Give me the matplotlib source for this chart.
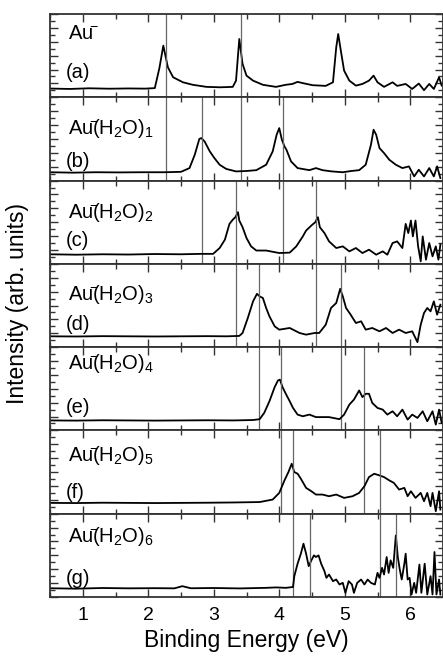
import matplotlib
matplotlib.use("Agg")
import matplotlib.pyplot as plt
from matplotlib.ticker import MultipleLocator

plt.rcParams['font.family'] = ['Liberation Sans', 'DejaVu Sans']
plt.rcParams['mathtext.fontset'] = 'custom'
plt.rcParams['mathtext.rm'] = 'Liberation Sans'
plt.rcParams['mathtext.it'] = 'Liberation Sans:italic'
plt.rcParams['mathtext.default'] = 'regular'

# spectra (binding energy in eV, intensity as fraction of panel height)
a_x = [0.50, 0.80, 1.10, 1.40, 1.70, 1.95, 2.10, 2.17, 2.23, 2.30, 2.38, 2.53, 2.68, 2.89, 3.10, 3.29,
       3.34, 3.39, 3.44, 3.50, 3.60, 3.75, 3.95, 4.10, 4.20, 4.28, 4.36, 4.51, 4.71, 4.82,
       4.87, 4.90, 4.94, 4.99, 5.07, 5.17, 5.27, 5.37, 5.44, 5.50, 5.60, 5.73, 5.80,
       5.93, 6.03, 6.13, 6.21, 6.29, 6.36, 6.44, 6.48]
a_y = [0.105, 0.10, 0.108, 0.103, 0.106, 0.104, 0.11, 0.35, 0.62, 0.36, 0.24, 0.18, 0.15, 0.125, 0.12, 0.125,
       0.20, 0.70, 0.40, 0.26, 0.20, 0.15, 0.125, 0.15, 0.16, 0.185, 0.17, 0.145, 0.137, 0.18,
       0.60, 0.76, 0.56, 0.32, 0.20, 0.14, 0.16, 0.20, 0.26, 0.18, 0.125, 0.18, 0.137,
       0.16, 0.10, 0.165, 0.085, 0.16, 0.10, 0.24, 0.14]

b_x = [0.50, 0.85, 1.20, 1.55, 1.90, 2.25, 2.50, 2.63, 2.71, 2.78, 2.81, 2.86, 2.94, 3.01, 3.09, 3.19, 3.34,
       3.50, 3.65, 3.80, 3.90, 3.96, 4.00, 4.04, 4.08, 4.11, 4.18, 4.28,
       4.46, 4.56, 4.66, 4.80, 4.97, 5.10, 5.22, 5.32,
       5.40, 5.44, 5.48, 5.53, 5.60, 5.68, 5.78, 5.88, 5.98,
       6.06, 6.13, 6.21, 6.29, 6.36, 6.41, 6.46]
b_y = [0.10, 0.095, 0.10, 0.098, 0.10, 0.10, 0.105, 0.15, 0.31, 0.50, 0.51, 0.47, 0.35, 0.27, 0.19, 0.14, 0.11,
       0.115, 0.125, 0.19, 0.35, 0.55, 0.63, 0.49, 0.41, 0.37, 0.23, 0.15,
       0.125, 0.15, 0.125, 0.11, 0.10, 0.115, 0.125, 0.19,
       0.43, 0.61, 0.55, 0.39, 0.33, 0.25, 0.19, 0.15, 0.17,
       0.05, 0.13, 0.05, 0.15, 0.05, 0.17, 0.03]

c_x = [0.50, 0.90, 1.30, 1.70, 2.10, 2.50, 2.80,
       2.99, 3.09, 3.17, 3.24, 3.29, 3.33, 3.37, 3.39, 3.44, 3.50, 3.57, 3.65, 3.80,
       4.00, 4.16, 4.26, 4.36, 4.41, 4.49, 4.55, 4.59, 4.62, 4.69, 4.76, 4.87,
       4.97, 5.07, 5.17, 5.27, 5.37, 5.48, 5.58, 5.65, 5.73, 5.80, 5.88,
       5.93, 5.97, 6.01, 6.04, 6.08, 6.12, 6.16, 6.19, 6.24, 6.29, 6.34, 6.39, 6.43, 6.46]
c_y = [0.115, 0.11, 0.115, 0.112, 0.118, 0.115, 0.12,
       0.12, 0.19, 0.29, 0.48, 0.53, 0.56, 0.62, 0.52, 0.44, 0.31, 0.21, 0.16, 0.16,
       0.13, 0.135, 0.21, 0.33, 0.40, 0.46, 0.50, 0.56, 0.44, 0.37, 0.27, 0.19,
       0.21, 0.15, 0.19, 0.13, 0.17, 0.11, 0.15, 0.11, 0.25, 0.27, 0.19,
       0.48, 0.37, 0.52, 0.33, 0.52, 0.21, 0.03, 0.33, 0.05, 0.25, 0.09, 0.21, 0.05, 0.23]

d_x = [0.50, 0.90, 1.30, 1.70, 2.10, 2.50, 2.90, 3.20,
       3.39, 3.44, 3.52, 3.60, 3.66, 3.70, 3.75, 3.80, 3.85, 3.93, 4.00,
       4.16, 4.31, 4.41, 4.54, 4.61, 4.71, 4.79, 4.87, 4.93, 4.97, 5.02, 5.09, 5.17, 5.25, 5.32, 5.42,
       5.53, 5.63, 5.73, 5.83, 5.93, 6.03, 6.11, 6.16, 6.21, 6.26, 6.31, 6.36, 6.41, 6.46]
d_y = [0.13, 0.128, 0.132, 0.13, 0.128, 0.13, 0.132, 0.13,
       0.135, 0.17, 0.35, 0.55, 0.64, 0.61, 0.59, 0.47, 0.37, 0.25, 0.21,
       0.23, 0.17, 0.15, 0.17, 0.17, 0.27, 0.47, 0.53, 0.70, 0.61, 0.47, 0.39, 0.29, 0.31, 0.21, 0.23,
       0.19, 0.23, 0.17, 0.21, 0.17, 0.19, 0.06, 0.27, 0.41, 0.47, 0.43, 0.55, 0.39, 0.51]

e_x = [0.50, 0.90, 1.30, 1.70, 2.10, 2.50, 2.90, 3.30, 3.60,
       3.70, 3.77, 3.85, 3.93, 3.98, 4.01, 4.05, 4.10, 4.16, 4.21, 4.28, 4.36, 4.46, 4.56, 4.76, 4.92,
       4.99, 5.07, 5.14, 5.22, 5.27, 5.32, 5.37, 5.42, 5.50, 5.58, 5.65, 5.73, 5.80, 5.88, 5.96,
       6.03, 6.11, 6.19, 6.26, 6.34, 6.39, 6.44, 6.48]
e_y = [0.12, 0.118, 0.122, 0.12, 0.118, 0.12, 0.122, 0.12, 0.125,
       0.135, 0.21, 0.35, 0.52, 0.60, 0.61, 0.52, 0.44, 0.35, 0.27, 0.19, 0.17, 0.19, 0.16, 0.16, 0.135,
       0.19, 0.31, 0.37, 0.48, 0.40, 0.44, 0.44, 0.33, 0.27, 0.25, 0.19, 0.23, 0.17, 0.25, 0.13,
       0.19, 0.15, 0.23, 0.11, 0.23, 0.07, 0.25, 0.09]

f_x = [0.50, 0.90, 1.30, 1.70, 2.10, 2.50, 2.90, 3.30, 3.70,
       3.90, 4.00, 4.08, 4.14, 4.19, 4.23, 4.28, 4.33, 4.41, 4.49, 4.56, 4.66, 4.76, 4.87, 4.99,
       5.12, 5.22, 5.30, 5.37, 5.45, 5.53, 5.60, 5.68, 5.75, 5.83, 5.91, 5.96, 6.01, 6.08, 6.16,
       6.21, 6.26, 6.31, 6.34, 6.39, 6.44, 6.46]
f_y = [0.13, 0.128, 0.132, 0.13, 0.128, 0.13, 0.132, 0.135, 0.14,
       0.17, 0.25, 0.40, 0.50, 0.60, 0.50, 0.48, 0.42, 0.31, 0.27, 0.23, 0.23, 0.21, 0.23, 0.19,
       0.21, 0.25, 0.33, 0.44, 0.48, 0.46, 0.44, 0.40, 0.37, 0.29, 0.31, 0.21, 0.27, 0.19, 0.25,
       0.15, 0.25, 0.09, 0.25, 0.03, 0.27, 0.05]

g_x = [0.50, 0.90, 1.30, 1.70, 2.10, 2.40, 2.52, 2.65, 3.00, 3.40, 3.80, 3.95, 4.10,
       4.21, 4.23, 4.28, 4.33, 4.37, 4.41, 4.45, 4.49, 4.53, 4.56, 4.60, 4.64, 4.69, 4.72, 4.76, 4.82, 4.87,
       4.92, 4.97, 5.01, 5.06, 5.11, 5.14, 5.19, 5.25, 5.30, 5.35, 5.40, 5.46, 5.50, 5.53, 5.57, 5.60,
       5.64, 5.67, 5.70, 5.74, 5.78, 5.81, 5.84, 5.87, 5.91, 5.93, 5.96, 5.99, 6.02, 6.06, 6.09,
       6.14, 6.17, 6.22, 6.26, 6.31, 6.34, 6.37, 6.40, 6.44, 6.46]
g_y = [0.105, 0.10, 0.108, 0.104, 0.106, 0.104, 0.13, 0.105, 0.108, 0.103, 0.11, 0.115, 0.11,
       0.12, 0.25, 0.40, 0.52, 0.64, 0.52, 0.37, 0.44, 0.50, 0.48, 0.50, 0.40, 0.31, 0.23, 0.27, 0.19, 0.21,
       0.15, 0.17, 0.05, 0.19, 0.15, 0.05, 0.17, 0.21, 0.15, 0.21, 0.17, 0.15, 0.29, 0.23, 0.35, 0.27,
       0.48, 0.29, 0.44, 0.35, 0.74, 0.48, 0.33, 0.21, 0.40, 0.52, 0.21, 0.23, 0.03, 0.17, 0.05,
       0.39, 0.05, 0.40, 0.03, 0.25, 0.03, 0.54, 0.03, 0.21, 0.03]

# peak markers of each panel (drawn through that panel and the one below)
peaks = [[2.27, 3.42], [2.82, 4.05], [3.34, 4.56], [3.69, 4.95],
         [4.02, 5.30], [4.21, 5.54], [4.47, 5.78]]

au = r'Au$^{\!\!\!-}\!\!\!$'
names = [au, au + r'(H$_2$O)$_1$', au + r'(H$_2$O)$_2$', au + r'(H$_2$O)$_3$',
         au + r'(H$_2$O)$_4$', au + r'(H$_2$O)$_5$', au + r'(H$_2$O)$_6$']
letters = ['(a)', '(b)', '(c)', '(d)', '(e)', '(f)', '(g)']
name_y = [0.70, 0.56, 0.55, 0.57, 0.74, 0.63, 0.66]
letter_y = [0.23, 0.16, 0.21, 0.20, 0.21, 0.19, 0.16]

spectra = [(a_x, a_y), (b_x, b_y), (c_x, c_y), (d_x, d_y), (e_x, e_y), (f_x, f_y), (g_x, g_y)]

fig, axes = plt.subplots(7, 1, sharex=True, figsize=(4.43, 6.57), dpi=100)
fig.subplots_adjust(left=50/443, right=1.0, top=1-14/657, bottom=1-597/657, hspace=0)

for i, ax in enumerate(axes):
    x, y = spectra[i]
    ax.plot(x, y, color='black', lw=1.3)
    for p in peaks[i]:
        ax.axvline(p, color='#666666', lw=0.9)
        if i + 1 < len(axes):
            axes[i + 1].axvline(p, color='#666666', lw=0.9)
    ax.text(0.045, name_y[i], names[i], transform=ax.transAxes, fontsize=14.5, va='baseline')
    ax.text(0.04, letter_y[i], letters[i], transform=ax.transAxes, fontsize=14.5, va='baseline')
    ax.set_ylim(0, 1)
    ax.set_xlim(0.5, 6.5)
    ax.xaxis.set_major_locator(MultipleLocator(1))
    ax.xaxis.set_minor_locator(MultipleLocator(0.5))
    ax.yaxis.set_major_locator(MultipleLocator(1/6))
    ax.yaxis.set_minor_locator(MultipleLocator(1/12))
    ax.tick_params(which='both', direction='in', top=True, right=True, width=1, colors='#333333',
                   labelleft=False, labelcolor='black')
    ax.tick_params(which='major', length=6)
    ax.tick_params(which='minor', length=3.5)
    for s in ax.spines.values():
        s.set_linewidth(1.3)
        s.set_color('#333333')

axes[-1].tick_params(axis='x', labelsize=14, pad=7)
axes[-1].set_xlabel('Binding Energy (eV)', fontsize=16.5, labelpad=4)
fig.text(0.04, 0.538, 'Intensity (arb. units)', rotation=90, fontsize=16.5, ha='center', va='center')

fig.savefig('out.png', dpi=100)
